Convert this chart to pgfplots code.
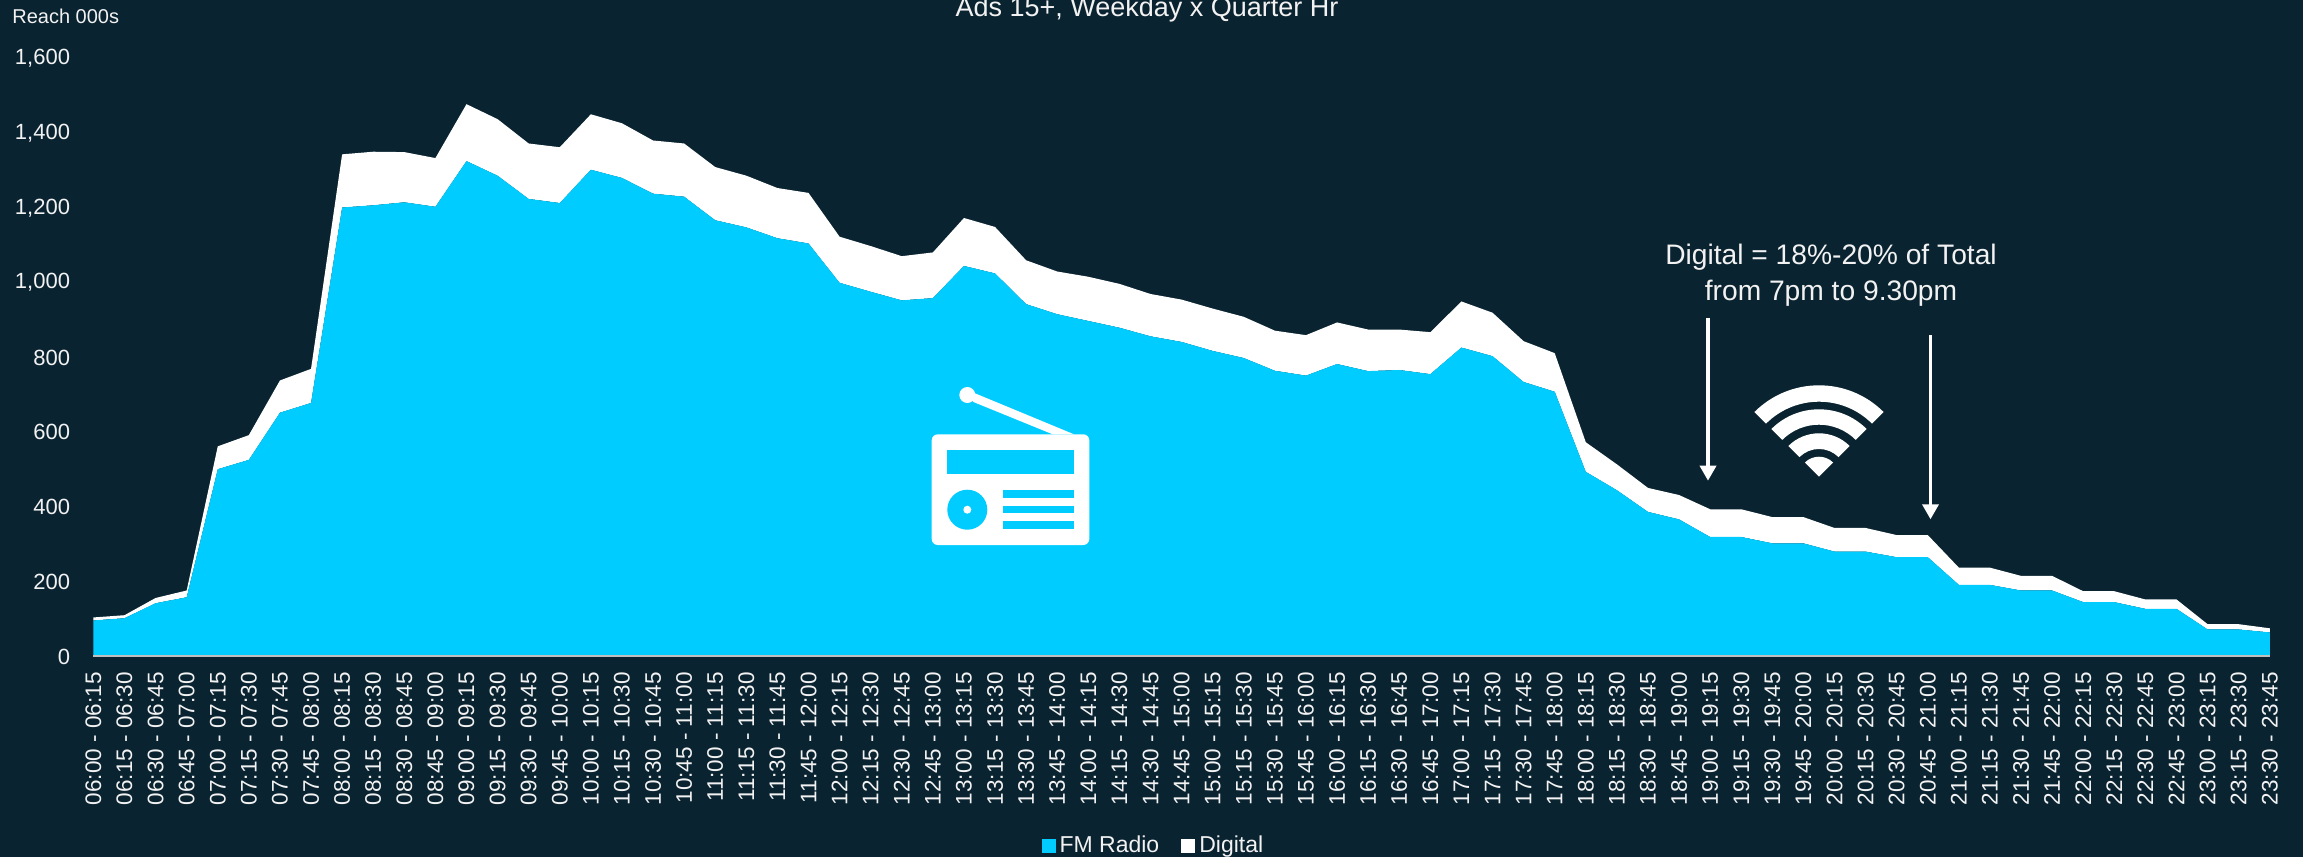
\documentclass[border=0pt]{standalone}
\usepackage{pgfplots}
\usepackage{pgfplotstable}
\usepackage{fontspec}
\setmainfont{Liberation Sans}
\pgfplotsset{compat=1.18}
\usetikzlibrary{arrows.meta}
\definecolor{bg}{HTML}{0A2330}
\definecolor{fm}{HTML}{00CCFF}
\definecolor{txt}{HTML}{F2F2F2}
\pgfplotstableread{
i fm dig
0 95 8
1 101 8
2 141 14
3 157 18
4 499 61
5 524 66
6 650 86
7 676 91
8 1198 142
9 1204 143
10 1212 134
11 1200 130
12 1322 152
13 1283 151
14 1221 148
15 1210 149
16 1299 148
17 1277 146
18 1235 142
19 1227 142
20 1164 142
21 1145 138
22 1116 134
23 1102 135
24 997 123
25 973 122
26 950 118
27 956 122
28 1042 128
29 1022 124
30 940 117
31 913 114
32 895 118
33 877 117
34 854 113
35 839 113
36 815 113
37 796 110
38 762 107
39 749 108
40 780 111
41 761 111
42 764 108
43 753 112
44 824 123
45 801 116
46 732 109
47 706 103
48 492 79
49 443 69
50 385 64
51 365 65
52 318 74
53 318 74
54 301 70
55 301 70
56 279 63
57 279 63
58 264 59
59 264 59
60 190 46
61 190 46
62 175 39
63 175 39
64 144 29
65 144 29
66 126 25
67 126 25
68 71 14
69 71 14
70 63 11
}\datatable
\begin{document}
\begin{tikzpicture}[x=0.5pt,y=0.5pt]
\path[use as bounding box] (0,0) rectangle (2303,-857);
\clip (0,0) rectangle (2303,-857);
\fill[bg] (0,0) rectangle (2303,-857);
\begin{axis}[
  at={(46.7pt,-328pt)}, anchor=south west,
  scale only axis, width=1088.3pt, height=299.5pt,
  xmin=0, xmax=70, ymin=0, ymax=1600,
  stack plots=y,
  axis on top,
  axis x line*=bottom, axis y line*=left,
  x axis line style={draw=black!25!white, line width=1pt, -},
  y axis line style={draw=none, -},
  tick style={draw=none},
  ytick={0,200,...,1600},
  xtick={0,1,...,70},
  /pgf/number format/assume math mode=true,
  /pgf/number format/1000 sep={,},
  yticklabel style={font=\fontsize{11}{12}\selectfont, text=txt, anchor=east, xshift=-11.5pt, yshift=-0.5pt, inner sep=0pt},
  xticklabel style={font=\fontsize{11.25}{12}\selectfont, text=txt, rotate=90, anchor=east, inner sep=0pt, xshift=-8pt},
  xticklabels={06:00 - 06:15,06:15 - 06:30,06:30 - 06:45,06:45 - 07:00,07:00 - 07:15,07:15 - 07:30,07:30 - 07:45,07:45 - 08:00,08:00 - 08:15,08:15 - 08:30,08:30 - 08:45,08:45 - 09:00,09:00 - 09:15,09:15 - 09:30,09:30 - 09:45,09:45 - 10:00,10:00 - 10:15,10:15 - 10:30,10:30 - 10:45,10:45 - 11:00,11:00 - 11:15,11:15 - 11:30,11:30 - 11:45,11:45 - 12:00,12:00 - 12:15,12:15 - 12:30,12:30 - 12:45,12:45 - 13:00,13:00 - 13:15,13:15 - 13:30,13:30 - 13:45,13:45 - 14:00,14:00 - 14:15,14:15 - 14:30,14:30 - 14:45,14:45 - 15:00,15:00 - 15:15,15:15 - 15:30,15:30 - 15:45,15:45 - 16:00,16:00 - 16:15,16:15 - 16:30,16:30 - 16:45,16:45 - 17:00,17:00 - 17:15,17:15 - 17:30,17:30 - 17:45,17:45 - 18:00,18:00 - 18:15,18:15 - 18:30,18:30 - 18:45,18:45 - 19:00,19:00 - 19:15,19:15 - 19:30,19:30 - 19:45,19:45 - 20:00,20:00 - 20:15,20:15 - 20:30,20:30 - 20:45,20:45 - 21:00,21:00 - 21:15,21:15 - 21:30,21:30 - 21:45,21:45 - 22:00,22:00 - 22:15,22:15 - 22:30,22:30 - 22:45,22:45 - 23:00,23:00 - 23:15,23:15 - 23:30,23:30 - 23:45},
  clip=false,
  legend columns=2,
  legend style={anchor=center, draw=none, fill=none, text=txt, font=\fontsize{11.5}{12}\selectfont, inner sep=0pt, /tikz/every even column/.append style={column sep=9pt}, at={(0.4875,-0.317)}},
  legend cell align=left,
  legend image code/.code={\fill[#1] (0pt,-3.5pt) rectangle (7pt,3.5pt);},
]
\addplot[fill=fm, draw=none] table[x=i,y=fm] {\datatable} \closedcycle;
\addlegendentry{FM Radio}
\addplot[fill=white, draw=none] table[x=i,y=dig] {\datatable} \closedcycle;
\addlegendentry{Digital}
\end{axis}
% texts
\node[anchor=base west, text=txt, inner sep=0pt, font=\fontsize{10}{12}\selectfont] at (12,-23) {Reach 000s};
\node[anchor=base, text=txt, inner sep=0pt, font=\fontsize{13.5}{16}\selectfont] at (1147,-16.5) {Ads 15+, Weekday x Quarter Hr};
\node[anchor=base, text=txt, inner sep=0pt, font=\fontsize{14.1}{16}\selectfont] at (1831,-264.5) {Digital = 18\%-20\% of Total};
\node[anchor=base, text=txt, inner sep=0pt, font=\fontsize{14.1}{16}\selectfont] at (1831,-300.8) {from 7pm to 9.30pm};
% arrows
\draw[white, line width=1.75pt, -{Triangle[width=8pt,length=7.5pt]}] (1708,-317.7) -- (1708,-480.7);
\draw[white, line width=1.75pt, -{Triangle[width=8pt,length=7.5pt]}] (1930.5,-335) -- (1930.5,-519.3);
% wifi icon
\begin{scope}[shift={(1819,-476.7)}]
\foreach \ro/\ri in {91.4/75, 67.4/52, 43.4/27.7}{
  \fill[white] (45:\ro*0.5pt) arc[start angle=45,end angle=135,radius=\ro*0.5pt] -- (135:\ri*0.5pt) arc[start angle=135,end angle=45,radius=\ri*0.5pt] -- cycle;
}
\fill[white] (0,0) -- (45:20*0.5pt) arc[start angle=45,end angle=135,radius=20*0.5pt] -- cycle;
\end{scope}
% radio icon
\fill[white, rounded corners=3pt] (931.7,-434.3) rectangle (1089.3,-545);
\fill[white] (975,-393.3) -- (1074,-434.3) -- (1052.7,-434.3) -- (972.7,-401.7) -- cycle;
\fill[white] (967.3,-395) circle[radius=4pt];
\fill[fm] (947.3,-450) rectangle (1074,-474);
\fill[fm] (967.3,-509.7) circle[radius=10pt];
\fill[white] (967.3,-509.7) circle[radius=2pt];
\fill[fm] (1002.7,-490) rectangle (1074,-497.7);
\fill[fm] (1002.7,-505.7) rectangle (1074,-513.3);
\fill[fm] (1002.7,-521.3) rectangle (1074,-529.3);
\end{tikzpicture}
\end{document}
